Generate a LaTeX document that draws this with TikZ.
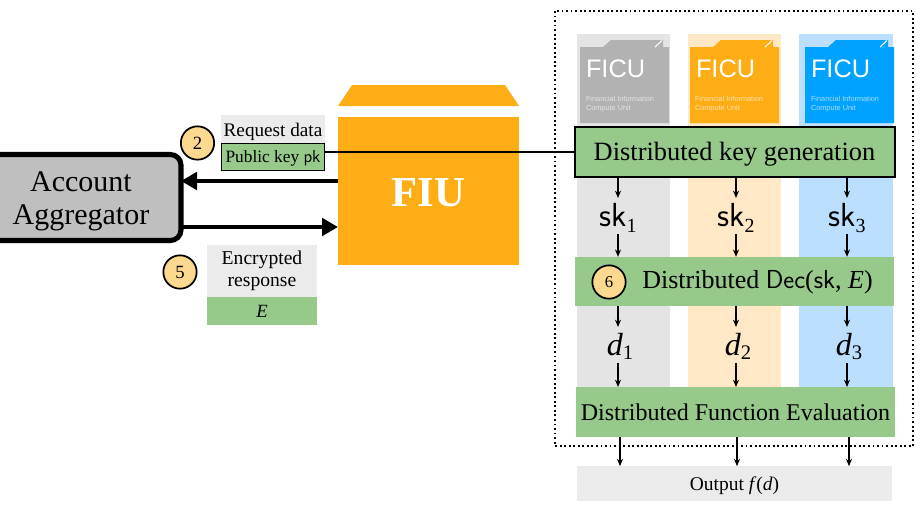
\documentclass[tikz,border=0pt]{standalone}
\usepackage{fontspec}
\setmainfont{Liberation Serif}
\newfontfamily\ficufont{Liberation Sans}
\usetikzlibrary{arrows.meta}
\definecolor{grn}{HTML}{97C98B}
\definecolor{lgray}{HTML}{EBEBEB}
\definecolor{colg}{HTML}{E5E4E4}
\definecolor{colo}{HTML}{FFE8C5}
\definecolor{colb}{HTML}{BDDFFF}
\definecolor{orng}{HTML}{FFAD14}
\definecolor{blu}{HTML}{00A2FF}
\definecolor{midg}{HTML}{B2B2B2}
\definecolor{aagray}{HTML}{BFBFBF}
\definecolor{numc}{HTML}{FDD98F}
\newcommand{\fs}[1]{\fontsize{#1}{#1}\selectfont}
\newcommand{\lowsub}[3]{\raisebox{-#2pt}{\fs{#1}#3}}
\tikzset{
  plain/.style={inner sep=0pt,outer sep=0pt,align=center},
  numc/.style={circle,draw=black,line width=1.3pt,fill=numc,minimum size=25pt,inner sep=0pt,outer sep=0pt,font=\fs{14}},
  big/.style={-{Triangle[length=12pt,width=13pt]},line width=3pt},
  small/.style={-{Stealth[length=5.5pt,width=4.5pt]},line width=.9pt},
  tag/.style={plain,fill=#1},
  stage/.style={plain,fill=grn},
  token/.style={plain,minimum width=18pt,minimum height=27pt},
  ficulabel/.style={plain,text=white,anchor=west,font=\ficufont\fs{19}},
  ficusmall/.style={plain,text=white,opacity=.65,anchor=north west,align=left,font=\ficufont\fs{5.5}},
}
\begin{document}
\begin{tikzpicture}[x=.75pt,y=-.75pt]
\clip (0,0) rectangle (921,512);
\fill[white] (0,0) rectangle (921,512);
% columns
\fill[colg] (577,34) rectangle (670,387);
\fill[colo] (688,34) rectangle (781,387);
\fill[colb] (799,34) rectangle (893,387);
% dotted frame
\draw[line width=1.4pt,dotted,line cap=butt] (555,11) rectangle (913,446);
% FICU icons
\foreach \xa/\xb/\c/\nm in {580/669/midg/a,690/779/orng/b,805/894/blu/c}{
  \fill[\c] (\xa,47) -- (\xa+23,47) -- (\xa+31,40) -- (\xb-6,40) -- (\xb-6,47) -- (\xb,47) -- (\xb,123) -- (\xa,123) -- cycle;
  \draw[white,line width=.8pt] (\xb-14,47) -- (\xb-7,40.5);
}
\node[ficulabel] (fa) at (586,69) {FICU};
\node[ficulabel] (fb) at (696,69) {FICU};
\node[ficulabel] (fc) at (811,69) {FICU};
\node[ficusmall] (fsa) at (586,96) {Financial Information\\[1.2pt]Compute Unit};
\node[ficusmall] (fsb) at (695,96) {Financial Information\\[1.2pt]Compute Unit};
\node[ficusmall] (fsc) at (811,96) {Financial Information\\[1.2pt]Compute Unit};
% FIU
\fill[orng] (338,106) -- (352,85) -- (505,85) -- (519,106) -- cycle;
\node[plain,fill=orng,minimum width=135.75pt,minimum height=111pt,text=white,font=\bfseries\fs{32},text height=22.5pt,text depth=0pt] (fiu) at (428.5,191) {FIU};
% stages
\node[stage,draw=black,line width=1.5pt,minimum width=240pt,minimum height=37pt,font=\fs{19.8},text height=12pt,text depth=0pt] (dkg) at (734.5,152) {Distributed key generation};
\node[stage,minimum width=239pt,minimum height=37pt,font=\fs{19.5},text height=11.2pt,text depth=0pt] (dec) at (734.5,281.5) {\hspace*{34.5pt}Distributed \textsf{Dec}(\textsf{sk}, \textit{E})};
\node[stage,minimum width=239pt,minimum height=37.5pt,font=\fs{18},text height=12pt,text depth=0pt] (dfe) at (735.5,412) {Distributed Function Evaluation};
\node[tag=lgray,minimum width=236pt,minimum height=26pt,font=\fs{14.6},text height=9.8pt,text depth=0pt] (out) at (734.5,483.5) {Output \textit{f}(\textit{d})};
\node[numc,font=\fs{12.5}] (n6) at (609,282) {6};
% tokens
\foreach \i/\x in {1/618,2/736,3/847}{
  \node[token,font=\fs{25}] (sk\i) at (\x,216) {\smash{\raisebox{-8pt}{\textsf{sk}\lowsub{15}{4.5}{\i}}}};
  \node[token,font=\fs{24}] (d\i) at (\x,345) {\smash{\raisebox{-7.5pt}{\hspace*{3pt}\textit{d}\lowsub{15.5}{3.5}{\i}}}};
  \draw[small] (sk\i |- dkg.south) -- (sk\i.north);
  \draw[small] (sk\i.south) -- (sk\i |- dec.north);
  \draw[small] (d\i |- dec.south) -- (d\i.north);
  \draw[small] (d\i.south) -- (d\i |- dfe.north);
}
\foreach \i/\x in {1/620,2/737,3/849}{
  \coordinate (o\i) at (\x,437);
  \draw[small] (o\i |- dfe.south) -- (o\i |- out.north);
}
% account aggregator
\node[plain,draw=black,line width=3.8pt,rounded corners=8pt,fill=aagray,minimum width=150pt,minimum height=64.5pt] (aa) at (81,197.5) {};
\node[plain,font=\fs{22.5}] (aat) at (81,201) {Account\\[2.25pt]Aggregator};
% request
\node[tag=lgray,minimum width=78pt,minimum height=20.5pt,font=\fs{14.4},text height=10.5pt,text depth=0pt] (req) at (273,129) {Request data};
\node[plain,fill=grn,draw=black,line width=1.2pt,minimum width=77pt,minimum height=20.5pt,font=\fs{13},text height=7.5pt,text depth=0pt] (pk) at (273,157) {Public key \textsf{pk}};
\node[numc] (n2) at (197.5,143) {2};
% encrypted
\node[tag=lgray,minimum width=82.5pt,minimum height=39pt,font=\fs{14.7}] (enc) at (262,271) {Encrypted\\[1.8pt]response};
\node[tag=grn,minimum width=82.5pt,minimum height=21pt,font=\fs{14}\itshape] (e) at (262,311) {E};
\node[numc] (n5) at (180,272) {5};
% connectors
\coordinate (ya) at (0,181);
\coordinate (yb) at (0,227);
\draw[big] (fiu.west |- ya) -- (aa.east |- ya);
\draw[big] (aa.east |- yb) -- (fiu.west |- yb);
\draw[line width=1.5pt] (pk.east |- dkg.west) -- (dkg.west);
\end{tikzpicture}
\end{document}
